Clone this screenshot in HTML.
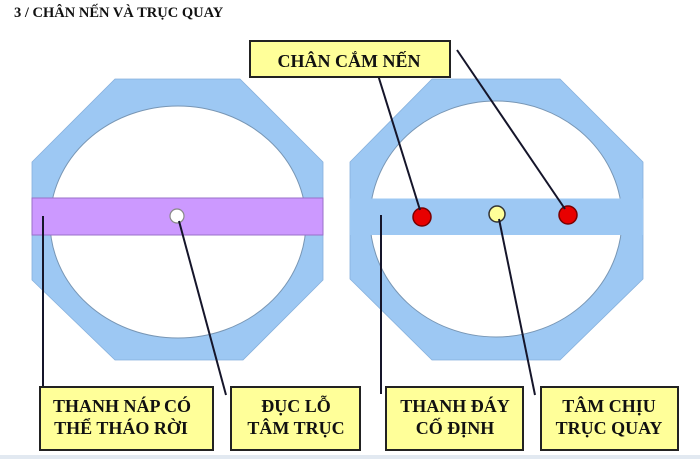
<!DOCTYPE html>
<html>
<head>
<meta charset="utf-8">
<style>
html,body{margin:0;padding:0;background:#fff;}
svg{display:block;}
text{font-family:"Liberation Serif","Noto Serif CJK SC",serif;font-weight:bold;fill:#111;}
</style>
</head>
<body>
<svg width="700" height="459" viewBox="0 0 700 459" xmlns="http://www.w3.org/2000/svg">
  <rect x="0" y="0" width="700" height="459" fill="#ffffff"/>
  <!-- Title -->
  <text x="14" y="17" font-size="14.5">3 / CHÂN NẾN VÀ TRỤC QUAY</text>

  <!-- LEFT OCTAGON -->
  <polygon points="115,79 240,79 323,162 323,280 243,360 115,360 32,280 32,162" fill="#9dc8f3" stroke="#86b0dc" stroke-width="0.8"/>
  <ellipse cx="178" cy="222" rx="128" ry="116" fill="#ffffff" stroke="#7896b4" stroke-width="1"/>
  <rect x="32" y="198" width="291" height="37" fill="#cc99ff" stroke="#9a70c8" stroke-width="1"/>
  <circle cx="177" cy="216" r="7" fill="#ffffff" stroke="#888" stroke-width="1.2"/>

  <!-- RIGHT OCTAGON -->
  <polygon points="432,79 560,79 643,162 643,279 560,360 432,360 350,279 350,162" fill="#9dc8f3" stroke="#86b0dc" stroke-width="0.8"/>
  <ellipse cx="496" cy="219" rx="126" ry="118" fill="#ffffff" stroke="#7896b4" stroke-width="1"/>
  <rect x="350" y="198.5" width="293" height="36.5" fill="#9dc8f3"/>
  <circle cx="422" cy="217" r="9" fill="#e80000" stroke="#7a0000" stroke-width="1.5"/>
  <circle cx="497" cy="214" r="8" fill="#ffff99" stroke="#333" stroke-width="1.5"/>
  <circle cx="568" cy="215" r="9" fill="#e80000" stroke="#7a0000" stroke-width="1.5"/>

  <!-- Connector lines -->
  <g stroke="#15152a" stroke-width="2" fill="none">
    <line x1="43" y1="216" x2="43" y2="394"/>
    <line x1="179" y1="221" x2="226" y2="395"/>
    <line x1="381" y1="215" x2="381" y2="394"/>
    <line x1="499" y1="219" x2="535" y2="395"/>
    <line x1="378" y1="75" x2="420" y2="210"/>
    <line x1="457" y1="50" x2="565" y2="209"/>
  </g>

  <!-- Top label box -->
  <rect x="250" y="41" width="200" height="36" fill="#ffff99" stroke="#222" stroke-width="2"/>
  <text x="349" y="67" font-size="18" text-anchor="middle">CHÂN CẮM NẾN</text>

  <!-- Bottom label boxes -->
  <rect x="40" y="387" width="173" height="63" fill="#ffff99" stroke="#222" stroke-width="2"/>
  <text x="122" y="412" font-size="18" text-anchor="middle">THANH NÁP CÓ</text>
  <text x="121" y="434" font-size="18" text-anchor="middle">THỂ THÁO RỜI</text>

  <rect x="231" y="387" width="129" height="63" fill="#ffff99" stroke="#222" stroke-width="2"/>
  <text x="296" y="412" font-size="18" text-anchor="middle">ĐỤC LỖ</text>
  <text x="296" y="434" font-size="18" text-anchor="middle">TÂM TRỤC</text>

  <rect x="386" y="387" width="137" height="63" fill="#ffff99" stroke="#222" stroke-width="2"/>
  <text x="455" y="412" font-size="18" text-anchor="middle">THANH ĐÁY</text>
  <text x="455" y="434" font-size="18" text-anchor="middle">CỐ ĐỊNH</text>

  <rect x="541" y="387" width="137" height="63" fill="#ffff99" stroke="#222" stroke-width="2"/>
  <text x="609" y="412" font-size="18" text-anchor="middle">TÂM CHỊU</text>
  <text x="609" y="434" font-size="18" text-anchor="middle">TRỤC QUAY</text>

  <!-- bottom strip -->
  <rect x="0" y="455" width="700" height="4" fill="#e2e9f1"/>
</svg>
</body>
</html>
